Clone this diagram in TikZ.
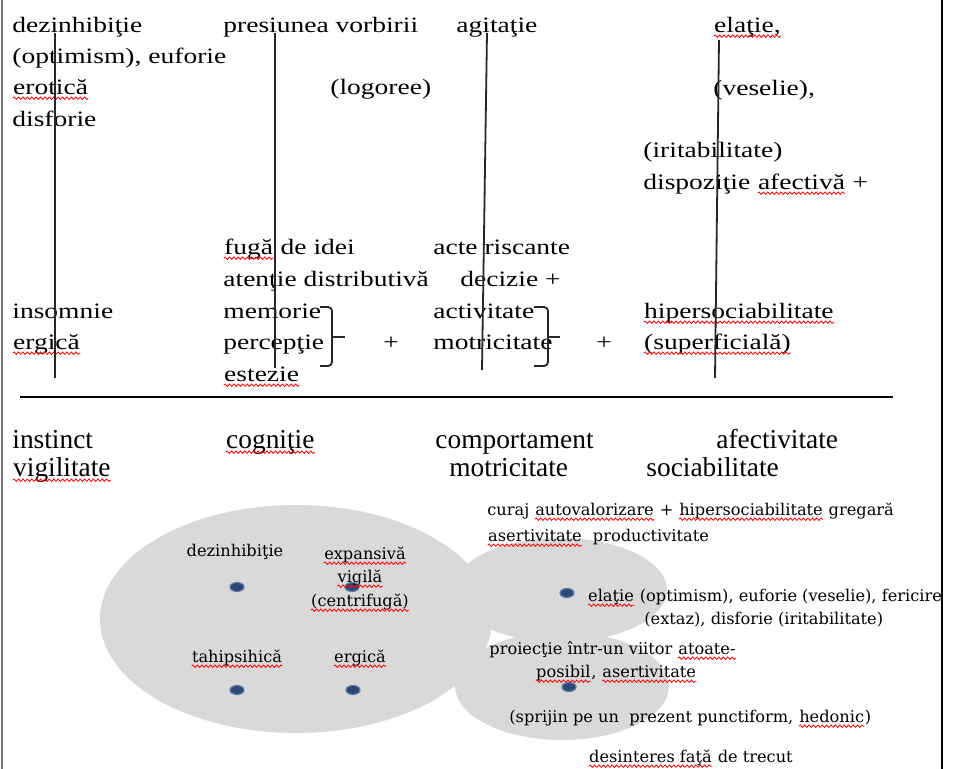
\documentclass[tikz,border=0pt]{standalone}
\usepackage{fontspec}
\setmainfont{Liberation Serif}
\newfontfamily\wideserif{Liberation Serif}[FakeStretch=1.25]
\newfontfamily\smallserif{DejaVu Serif}
\usetikzlibrary{shapes.geometric, decorations.pathmorphing}

\definecolor{blobgray}{RGB}{217,217,217}
\definecolor{dotblue}{RGB}{44,72,115}
\definecolor{dotedge}{RGB}{95,125,170}

% red spelling squiggle under a word
\newcommand\sq[1]{\tikz[baseline=(w.base)]{\node[rectangle, draw=none, fill=none, anchor=base, inner sep=0pt] (w) {#1};
    \draw[red, line width=0.4pt, decorate, decoration={snake, amplitude=0.6pt, segment length=2.2pt}] ([yshift=-1.6pt]w.base west) -- ([yshift=-1.6pt]w.base east);}}

\begin{document}
\begin{tikzpicture}[x=0.5pt, y=-0.5pt]
    \tikzset{
        toptxt/.style={anchor=base west, inner sep=0pt, font=\wideserif\fontsize{11}{15.8}\selectfont},
        rowtxt/.style={anchor=base west, inner sep=0pt, font=\fontsize{13.7}{15}\selectfont},
        blobtxt/.style={anchor=base west, inner sep=0pt, font=\smallserif\fontsize{8.1}{11.5}\selectfont},
        dot/.style={ellipse, minimum width=7pt, minimum height=4.5pt, inner sep=0pt, fill=dotblue, draw=dotedge, line width=0.6pt},
        bar/.style={line width=0.9pt, draw=black!85}
    }
    \useasboundingbox (0,0) rectangle (954,769);

    % frame
    \draw[line width=0.8pt, black!55] (2,0) -- (2,769);
    \draw[line width=1pt] (942,0) -- (942,769);

    % gray blobs
    \fill[blobgray] (296,619) ellipse [x radius=196, y radius=114];
    \fill[blobgray] (560,590) ellipse [x radius=107, y radius=52];
    \fill[blobgray] (562,686) ellipse [x radius=107, y radius=54];

    % dots
    \node[dot] (p1) at (237,587) {};
    \node[dot] (p2) at (352,587) {};
    \node[dot] (p3) at (237,690) {};
    \node[dot] (p4) at (353,690) {};
    \node[dot] (p5) at (567,593) {};
    \node[dot] (p6) at (569,687) {};

    % upper columns
    \node[toptxt] (dez) at (12,33) {dezinhibiţie};
    \node[toptxt] (opt) at (12,64) {(optimism), euforie};
    \node[toptxt] (ero) at (12,95) {\sq{erotică}};
    \node[toptxt] (dis) at (12,127) {disforie};
    \node[toptxt] (pres) at (223,33) {presiunea vorbirii};
    \node[toptxt] (logo) at (330,95) {(logoree)};
    \node[toptxt] (agit) at (456,33) {agitaţie};
    \node[toptxt] (ela) at (713,33) {\sq{elaţie,}};
    \node[toptxt] (ves) at (713,96) {(veselie),};
    \node[toptxt] (irit) at (643,158) {(iritabilitate)};
    \node[toptxt] (disp) at (643,190) {dispoziţie \sq{afectivă} +};
    \node[toptxt] (fuga) at (223,255) {\sq{fugă} de idei};
    \node[toptxt] (aten) at (223,287) {atenţie distributivă};
    \node[toptxt] (acte) at (433,255) {acte riscante};
    \node[toptxt] (dec) at (460,287) {decizie +};
    \node[toptxt] (ins) at (12,319) {insomnie};
    \node[toptxt] (erg) at (12,350) {\sq{ergică}};
    \node[toptxt] (mem) at (223,319) {memorie};
    \node[toptxt] (perc) at (223,350) {percepţie};
    \node[toptxt] (est) at (223,382) {\sq{estezie}};
    \node[toptxt] (plusa) at (383,350) {+};
    \node[toptxt] (act) at (433,319) {activitate};
    \node[toptxt] (mot) at (433,350) {motricitate};
    \node[toptxt] (plusb) at (596,350) {+};
    \node[toptxt] (hip) at (643,319) {\sq{hipersociabilitate}};
    \node[toptxt] (sup) at (643,350) {\sq{(superficială)}};

    % vertical bars and braces
    \draw[bar] (55,33) -- (55,378);
    \draw[bar] (275,33) -- (275,368);
    \draw[bar] (487,33) -- (482,370);
    \draw[bar] (719,40) -- (715,378);
    \draw[bar, rounded corners=2pt] (320,307) -- (332,307) -- (332,366) -- (320,366);
    \draw[bar] (332,337) -- (345,337);
    \draw[bar, rounded corners=2pt] (534,307) -- (548,307) -- (548,366) -- (534,366);
    \draw[bar] (548,337) -- (560,337);

    % separator
    \draw[line width=1.1pt] (20,397) -- (893,397);

    % lower row
    \node[rowtxt] (inst) at (12,449) {instinct};
    \node[rowtxt] (vig) at (12,477) {\sq{vigilitate}};
    \node[rowtxt] (cog) at (225,449) {\sq{cogniţie}};
    \node[rowtxt] (comp) at (435,449) {comportament};
    \node[rowtxt] (motb) at (449,477) {motricitate};
    \node[rowtxt] (afe) at (716,449) {afectivitate};
    \node[rowtxt] (soc) at (646,477) {sociabilitate};

    % blob labels
    \node[blobtxt, anchor=base] (bdez) at (235,557) {dezinhibiţie};
    \node[blobtxt, anchor=base] (bexp) at (365,560) {\sq{expansivă}};
    \node[blobtxt, anchor=base] (bvig) at (360,583) {\sq{vigilă}};
    \node[blobtxt, anchor=base] (bcen) at (360,607) {\sq{(centrifugă)}};
    \node[blobtxt, anchor=base] (btah) at (237,663) {\sq{tahipsihică}};
    \node[blobtxt, anchor=base] (berg) at (360,663) {\sq{ergică}};
    \node[blobtxt] (cur) at (487,516) {curaj \sq{autovalorizare} + \sq{hipersociabilitate} gregară};
    \node[blobtxt] (ase) at (487,542) {\sq{asertivitate}\ \ productivitate};
    \node[blobtxt] (bela) at (587,602) {\sq{elaţie} (optimism), euforie (veselie), fericire};
    \node[blobtxt] (ext) at (644,625) {(extaz), disforie (iritabilitate)};
    \node[blobtxt] (proi) at (489,655) {proiecţie într-un viitor \sq{atoate-}};
    \node[blobtxt] (pos) at (535,678) {\sq{posibil}, \sq{asertivitate}};
    \node[blobtxt] (spr) at (509,723) {(sprijin pe un\ \ prezent punctiform, \sq{hedonic})};
    \node[blobtxt] (des) at (588,763) {\sq{desinteres faţă} de trecut};
\end{tikzpicture}
\end{document}
